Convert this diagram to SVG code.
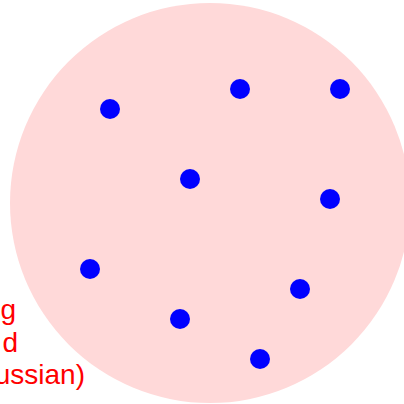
<svg xmlns="http://www.w3.org/2000/svg" width="404" height="404" viewBox="0 0 404 404">
<style>
.bg{fill:#ffd9d9}
.pt{fill:#0000ff}
.lbl{font-family:"Liberation Sans",Arial,sans-serif;font-size:28px;fill:#ff0000;text-anchor:end}
</style>
<rect width="404" height="404" fill="#ffffff"/>
<g id="region"><circle class="bg" cx="210" cy="203" r="200"/></g>
<g id="label">
<text class="lbl" x="16" y="319">g</text>
<text class="lbl" x="18" y="352">d</text>
<text class="lbl" x="85" y="384">ussian)</text>
</g>
<g id="points">
<circle id="p1" class="pt" cx="110" cy="109" r="10"/>
<circle id="p2" class="pt" cx="240" cy="89" r="10"/>
<circle id="p3" class="pt" cx="340" cy="89" r="10"/>
<circle id="p4" class="pt" cx="190" cy="179" r="10"/>
<circle id="p5" class="pt" cx="330" cy="199" r="10"/>
<circle id="p6" class="pt" cx="90" cy="269" r="10"/>
<circle id="p7" class="pt" cx="300" cy="289" r="10"/>
<circle id="p8" class="pt" cx="180" cy="319" r="10"/>
<circle id="p9" class="pt" cx="260" cy="359" r="10"/>
</g>
</svg>
